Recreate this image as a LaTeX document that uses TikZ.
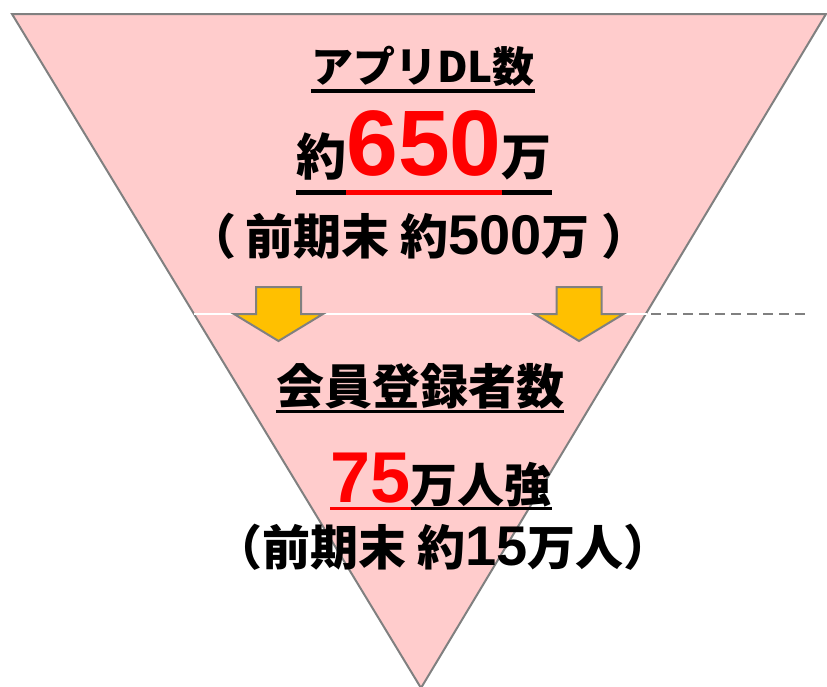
\documentclass[tikz,border=0pt]{standalone}
\usepackage{fontspec}
\setmainfont{Liberation Sans}
\newfontfamily\jp{Noto Sans CJK JP}
\usetikzlibrary{positioning}

\definecolor{funnelpink}{RGB}{255,204,204}
\definecolor{edgegray}{RGB}{128,128,128}
\definecolor{arrowgold}{RGB}{255,192,0}
\definecolor{numred}{RGB}{255,0,0}

\tikzset{
  txt/.style={inner sep=0pt, anchor=base, font=\bfseries\fontsize{#1}{#1}\selectfont},
  arrowbox/.style={fill=arrowgold, draw=edgegray, line width=2pt, line join=miter},
  uline/.style={line width=3.5pt}
}
\newcommand\digits[1]{{\fontsize{56}{56}\selectfont #1}}

\begin{document}
\begin{tikzpicture}[x=1pt,y=-1pt]
\useasboundingbox (0,0) rectangle (827,686);
% funnel
\draw[fill=funnelpink, draw=edgegray, line width=2pt] (12,14) -- (826,14) -- (421,688) -- cycle;
\draw[white, line width=2pt] (194,314) -- (647,314);
\draw[edgegray, line width=2pt, dash pattern=on 10pt off 6pt] (651,314) -- (807,314);
\foreach \x in {278.5,579}
  \draw[arrowbox] ({\x-22.5},287) -- ({\x+22.5},287) -- ({\x+22.5},314) -- ({\x+44.5},314)
    -- (\x,341) -- ({\x-44.5},314) -- ({\x-22.5},314) -- cycle;

% upper part
\node[txt=42] (appdl) at (423,82) {\jp アプリDL数};
\draw[uline] ([yshift=-9pt]appdl.base west) -- ([yshift=-9pt]appdl.base east);

\node[txt=93, text=numred] (num650) at (424,175) {650};
\node[txt=50, base left=0pt of num650] (yaku) {\jp 約};
\node[txt=50, base right=0pt of num650] (man) {\jp 万};
\draw[uline, line width=4.5pt] ([yshift=-17.5pt]yaku.base west) -- ([yshift=-17.5pt]yaku.base east);
\draw[uline, line width=4.5pt, numred] ([yshift=-17.5pt]num650.base west) -- ([yshift=-17.5pt]num650.base east);
\draw[uline, line width=4.5pt] ([yshift=-17.5pt]man.base west) -- ([yshift=-17.5pt]man.base east);

\node[txt=48, anchor=base west] (prev1) at (188,254)
  {{\jp （\hspace{9pt}前期末 約}\digits{500}{\jp 万\hspace{12pt}）}};

% lower part
\node[txt=48] (member) at (420,404) {\jp 会員登録者数};
\draw[uline] ([yshift=-7.5pt]member.base west) -- ([yshift=-7.5pt]member.base east);

\node[txt=72, text=numred] (num75) at (370.5,502) {75};
\node[txt=47, base right=0pt of num75] (manjin) {\jp 万人強};
\draw[uline, numred] ([yshift=-6.5pt]num75.base west) -- ([yshift=-6.5pt]num75.base east);
\draw[uline] ([yshift=-6.5pt]manjin.base west) -- ([yshift=-6.5pt]manjin.base east);

\node[txt=48, anchor=base west] (prev2) at (214,565) {{\jp （前期末 約}\digits{15}{\jp 万人）}};
\end{tikzpicture}
\end{document}
